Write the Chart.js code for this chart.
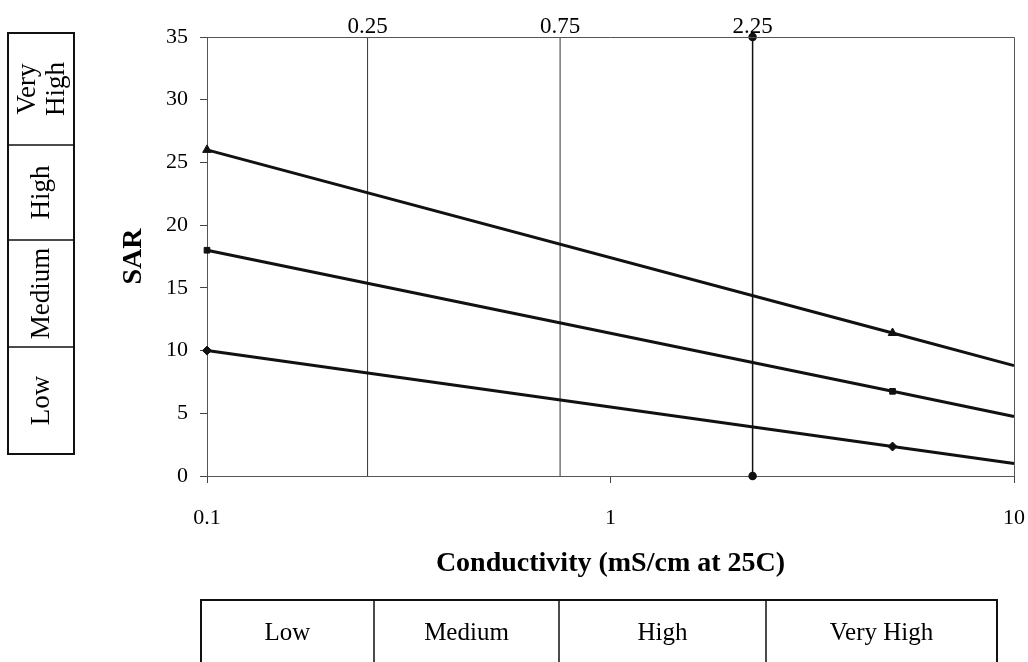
<!DOCTYPE html>
<html>
<head>
<meta charset="utf-8">
<script src="https://cdn.jsdelivr.net/npm/chart.js@4/dist/chart.umd.min.js"></script>
<style>
  html, body { margin: 0; padding: 0; background: #fff; }
  #wrap { width: 1028px; height: 662px; }
</style>
</head>
<body>
<div id="wrap"><canvas id="c" width="1028" height="662"></canvas></div>
<script>
// Salinity / sodium hazard boundaries: SAR against conductivity (log scale)
const conductivity = [0.1, 5, 10];
const sarUpper = [26, 11.4, 8.8];    // Very High / High boundary
const sarMiddle = [18, 6.75, 4.75];  // High / Medium boundary
const sarLower = [10, 2.35, 1.0];    // Medium / Low boundary
const markerRadius = [4.5, 4.5, 0];

// Conductivity class limits (mS/cm)
const ecLimits = [0.25, 0.75, 2.25];
const ecLimitLabels = ['0.25', '0.75', '2.25'];

const xTickValues = [0.1, 1, 10];
const xTickLabels = ['0.1', '1', '10'];
const yTickValues = [0, 5, 10, 15, 20, 25, 30, 35];
const sarRange = [0, 35];

const sarClasses = ['Low', 'Medium', 'High', 'Very High'];
const ecClasses = ['Low', 'Medium', 'High', 'Very High'];

const SERIF = '"Liberation Serif", "DejaVu Serif", serif';
const INK = '#111';

function series(ys) {
  return conductivity.map((x, i) => ({ x: x, y: ys[i] }));
}

function lineSet(ys, style, radius) {
  return {
    data: series(ys),
    borderColor: INK,
    backgroundColor: INK,
    borderWidth: 3,
    pointStyle: style,
    pointRadius: markerRadius.map(r => r ? radius : 0),
    pointBorderWidth: 1,
    tension: 0,
    clip: false
  };
}

function limitSet(x, withDots) {
  return {
    data: [{ x: x, y: sarRange[0] }, { x: x, y: sarRange[1] }],
    borderColor: withDots ? '#111' : '#333',
    backgroundColor: '#111',
    borderWidth: withDots ? 1.5 : 1,
    pointRadius: withDots ? 3.5 : 0,
    pointStyle: 'circle',
    clip: false
  };
}

// Frame, class labels, axis titles and the two class tables
const decor = {
  id: 'decor',
  afterDraw(chart) {
    const ctx = chart.ctx;
    const a = chart.chartArea;
    const xs = chart.scales.x;
    ctx.save();

    // top and right edges of the plot frame
    ctx.strokeStyle = '#555';
    ctx.lineWidth = 1;
    ctx.beginPath();
    ctx.moveTo(a.left, a.top + 0.5);
    ctx.lineTo(a.right + 0.5, a.top + 0.5);
    ctx.lineTo(a.right + 0.5, a.bottom);
    ctx.stroke();

    // conductivity limit labels above the plot
    ctx.fillStyle = '#000';
    ctx.font = '23px ' + SERIF;
    ctx.textAlign = 'center';
    ctx.textBaseline = 'alphabetic';
    ecLimits.forEach((v, i) => {
      ctx.fillText(ecLimitLabels[i], xs.getPixelForValue(v), a.top - 4);
    });

    // y axis title
    ctx.font = 'bold 28px ' + SERIF;
    ctx.save();
    ctx.translate(134, (a.top + a.bottom) / 2);
    ctx.rotate(-Math.PI / 2);
    ctx.textBaseline = 'middle';
    ctx.fillText('SAR', 0, 0);
    ctx.restore();

    // x axis title
    ctx.textBaseline = 'middle';
    ctx.fillText('Conductivity (mS/cm at 25C)', (a.left + a.right) / 2, 564);

    // conductivity class table under the axis
    const bx = [201, 374, 559, 766, 997];
    const bTop = 600, bBot = 668;
    ctx.strokeStyle = '#111';
    ctx.lineWidth = 2;
    ctx.beginPath();
    ctx.moveTo(bx[0], bBot); ctx.lineTo(bx[0], bTop);
    ctx.lineTo(bx[4], bTop); ctx.lineTo(bx[4], bBot);
    ctx.stroke();
    ctx.lineWidth = 1.5;
    ctx.beginPath();
    for (let i = 1; i < 4; i++) { ctx.moveTo(bx[i], bTop); ctx.lineTo(bx[i], bBot); }
    ctx.stroke();
    ctx.font = '25px ' + SERIF;
    ctx.textBaseline = 'middle';
    ecClasses.forEach((t, i) => ctx.fillText(t, (bx[i] + bx[i + 1]) / 2, 633));

    // SAR class table on the left (bottom to top)
    const lx0 = 8, lx1 = 74;
    const ly = [454, 347, 240, 145, 33];
    ctx.lineWidth = 2;
    ctx.strokeRect(lx0, ly[4], lx1 - lx0, ly[0] - ly[4]);
    ctx.lineWidth = 1.5;
    ctx.beginPath();
    for (let i = 1; i < 4; i++) { ctx.moveTo(lx0, ly[i]); ctx.lineTo(lx1, ly[i]); }
    ctx.stroke();
    ctx.font = '27px ' + SERIF;
    sarClasses.forEach((t, i) => {
      const cy = (ly[i] + ly[i + 1]) / 2;
      const words = t.split(' ');
      ctx.save();
      ctx.translate((lx0 + lx1) / 2, cy);
      ctx.rotate(-Math.PI / 2);
      if (words.length === 1) {
        ctx.textBaseline = 'middle';
        ctx.fillText(t, 0, 1);
      } else {
        ctx.textBaseline = 'alphabetic';
        ctx.fillText(words[0], 0, -6);
        ctx.fillText(words[1], 0, 23);
      }
      ctx.restore();
    });

    ctx.restore();
  }
};

new Chart(document.getElementById('c'), {
  type: 'line',
  data: {
    datasets: [
      lineSet(sarUpper, 'triangle', 5),
      lineSet(sarMiddle, 'rect', 4),
      lineSet(sarLower, 'rectRot', 4.5),
      limitSet(ecLimits[0], false),
      limitSet(ecLimits[1], false),
      limitSet(ecLimits[2], true)
    ]
  },
  options: {
    responsive: false,
    animation: false,
    devicePixelRatio: 1,
    layout: { padding: { top: 37, right: 14, left: 0, bottom: 0 } },
    plugins: { legend: { display: false }, tooltip: { enabled: false } },
    scales: {
      x: {
        type: 'logarithmic',
        position: 'bottom',
        min: xTickValues[0],
        max: xTickValues[xTickValues.length - 1],
        afterBuildTicks(s) { s.ticks = xTickValues.map(v => ({ value: v })); },
        afterFit(s) { s.height = 186; s.paddingLeft = 0; s.paddingRight = 0; },
        ticks: {
          autoSkip: false,
          maxRotation: 0,
          padding: 22,
          color: '#000',
          font: { family: SERIF, size: 22 },
          callback(v) { const i = xTickValues.indexOf(v); return i >= 0 ? xTickLabels[i] : ''; }
        },
        grid: { drawOnChartArea: false, drawTicks: true, tickLength: 7, color: '#444' },
        border: { color: '#555', width: 1 }
      },
      y: {
        type: 'linear',
        min: sarRange[0],
        max: sarRange[1],
        afterBuildTicks(s) { s.ticks = yTickValues.map(v => ({ value: v })); },
        afterFit(s) { s.width = 207; s.paddingTop = 0; s.paddingBottom = 0; },
        ticks: {
          padding: 12,
          color: '#000',
          font: { family: SERIF, size: 22 }
        },
        grid: { drawOnChartArea: false, drawTicks: true, tickLength: 7, color: '#444' },
        border: { color: '#555', width: 1 }
      }
    }
  },
  plugins: [decor]
});
</script>
</body>
</html>
